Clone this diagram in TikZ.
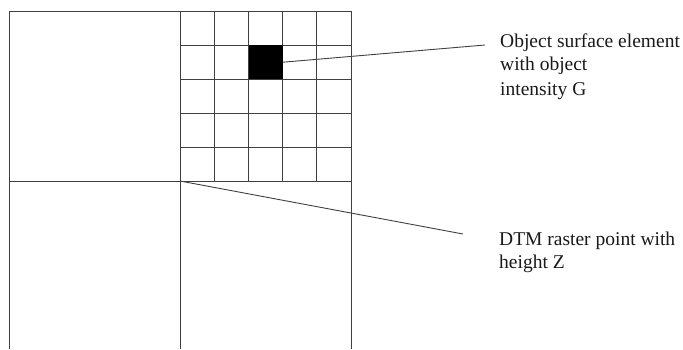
\documentclass[tikz,border=0pt]{standalone}
\usepackage{fontspec}
\setmainfont{Liberation Serif}
\begin{document}
\begin{tikzpicture}[x=1pt,y=-1pt,
  gridline/.style={draw=black!75,line width=0.9pt},
  leader/.style={draw=black!75,line width=0.9pt},
  lbl/.style={anchor=west,inner sep=0pt,font=\fontsize{19.5}{22}\selectfont,text=black!90}]
\useasboundingbox (0,0) rectangle (683,349);
% outer frame (open at bottom)
\draw[gridline] (9,349) -- (9,11) -- (351,11) -- (351,349);
\draw[gridline] (180,11) -- (180,349);
\draw[gridline] (9,181) -- (351,181);
% fine grid in upper right quadrant
\foreach \i in {1,...,4} {
  \draw[gridline] ({180+\i*34.2},11) -- ({180+\i*34.2},181);
  \draw[gridline] (180,{11+\i*34}) -- (351,{11+\i*34});
}
% object surface element
\node[fill=black,minimum width=34.2pt,minimum height=34pt,inner sep=0pt,anchor=north west] (elem) at (248.4,45) {};
\coordinate (dtm) at (180,181);
% labels
\node[lbl] (t1) at (500,43) {Object surface element};
\node[lbl] (t2) at (500,66) {with object};
\node[lbl] (t3) at (500,91) {intensity G};
\node[lbl] (d1) at (499,241) {DTM raster point with};
\node[lbl] (d2) at (499,264) {height Z};
\coordinate (e1) at (485,45);
\coordinate (e2) at (463,234);
\draw[leader] (elem.east) -- (e1);
\draw[leader] (dtm) -- (e2);
\end{tikzpicture}
\end{document}
